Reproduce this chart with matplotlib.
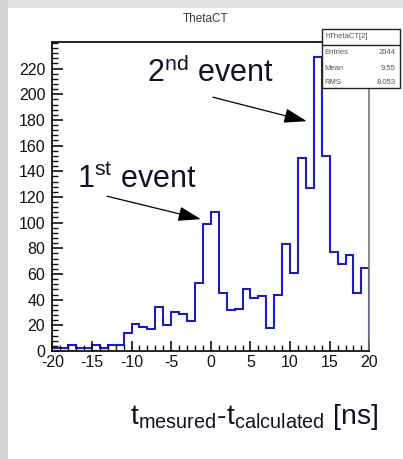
import numpy as np
import matplotlib.pyplot as plt
from matplotlib.patches import Rectangle
from matplotlib.ticker import MultipleLocator

plt.rcParams['font.family'] = ['Liberation Sans', 'DejaVu Sans']
plt.rcParams['mathtext.fontset'] = 'custom'
plt.rcParams['mathtext.rm'] = 'Liberation Sans'
plt.rcParams['mathtext.it'] = 'Liberation Sans'
plt.rcParams['axes.unicode_minus'] = False

# histogram hThetaCT[2], 1 ns bins from -20 to 20
bin_edges = np.arange(-20, 21, 1)
counts = [2, 2, 5, 2, 2, 5, 2, 5, 5, 14, 21, 19, 17, 34, 20, 30, 29, 23, 53, 99,
          108, 45, 32, 33, 48, 41, 43, 18, 44, 83, 61, 150, 127, 229, 152, 77, 68, 75, 45, 65]

x_ticks = [-20, -15, -10, -5, 0, 5, 10, 15, 20]
y_ticks = [0, 20, 40, 60, 80, 100, 120, 140, 160, 180, 200, 220]

stats_name = 'hThetaCT[2]'
stats_labels = ['Entries', 'Mean', 'RMS']
stats_values = ['2044', '9.55', '8.053']

fig = plt.figure(figsize=(4.03, 4.59), dpi=100)
fig.patch.set_facecolor('white')
# grey slide border at top and left
fig.patches.append(Rectangle((0, 0.982), 1, 0.018, transform=fig.transFigure,
                             facecolor='#e2e2e2', edgecolor='none', zorder=0))
fig.patches.append(Rectangle((0, 0), 0.021, 1, transform=fig.transFigure,
                             facecolor='#d4d4d4', edgecolor='none', zorder=0))

ax = fig.add_axes([0.1298, 0.2353, 0.7866, 0.6732])
ax.stairs(counts, bin_edges, color='#1c1cc4', linewidth=1.5)
ax.set_xlim(-20, 20)
ax.set_ylim(0, 240.7)

ax.set_xticks(x_ticks)
ax.set_xticklabels([str(t) for t in x_ticks])
ax.set_yticks(y_ticks)
ax.set_yticklabels([str(t) for t in y_ticks])
ax.xaxis.set_minor_locator(MultipleLocator(1))
ax.yaxis.set_minor_locator(MultipleLocator(4))
ax.tick_params(axis='both', which='both', direction='in', colors='#111111',
               labelsize=11.5, top=False, right=False)
ax.tick_params(axis='y', which='major', length=8, width=1.2, pad=5)
ax.tick_params(axis='y', which='minor', length=4, width=1.0)
ax.tick_params(axis='x', which='major', length=7, width=1.2, pad=3)
ax.tick_params(axis='x', which='minor', length=4, width=1.0)
for side in ['left', 'bottom', 'top']:
    ax.spines[side].set_linewidth(1.3)
    ax.spines[side].set_color('#111111')
ax.spines['right'].set_color('#777777')
ax.spines['right'].set_linewidth(1.2)

# annotations
ax.annotate('', xy=(-1.25, 102.7), xytext=(-13.1, 120.6),
            arrowprops=dict(arrowstyle='-|>,head_length=1.4,head_width=0.45',
                            color='black', lw=0.9, shrinkA=0, shrinkB=0))
ax.annotate('', xy=(12.1, 179), xytext=(0.26, 197.7),
            arrowprops=dict(arrowstyle='-|>,head_length=1.4,head_width=0.45',
                            color='black', lw=0.9, shrinkA=0, shrinkB=0))
ax.text(-16.9, 126.8, r'1$^{\mathrm{st}}$ event', fontsize=22, color='#111128',
        ha='left', va='baseline')
ax.text(-8.05, 209.3, r'2$^{\mathrm{nd}}$ event', fontsize=22, color='#111128',
        ha='left', va='baseline')

# title
fig.text(0.509, 0.9586, 'ThetaCT', fontsize=8.5, color='#3a3a3a', ha='center', va='center')

# stats box
bx0, bx1 = 322 / 403, 400 / 403
by_top, by_div, by_bot = 1 - 29 / 459, 1 - 45 / 459, 1 - 88 / 459
fig.patches.append(Rectangle((bx0, by_bot), bx1 - bx0, by_top - by_bot, transform=fig.transFigure,
                             facecolor='white', edgecolor='#222222', linewidth=1.0, zorder=5))
fig.add_artist(plt.Line2D([bx0, bx1], [by_div, by_div], transform=fig.transFigure,
                          color='#222222', linewidth=1.0, zorder=6))
fig.text(bx0 + 0.008, 1 - 37 / 459, stats_name, fontsize=5.5, color='#555555',
         ha='left', va='center', zorder=7)
for i, (lab, val) in enumerate(zip(stats_labels, stats_values)):
    yy = 1 - (53 + 15 * i) / 459
    fig.text(bx0 + 0.006, yy, lab, fontsize=5.5, color='#555555', ha='left', va='center', zorder=7)
    fig.text(bx1 - 0.012, yy, val, fontsize=5.5, color='#555555', ha='right', va='center', zorder=7)

# x axis label
fig.text(130 / 403, 1 - 424 / 459,
         r'$\mathregular{t_{mesured}}$-$\mathregular{t_{calculated}}$ [ns]',
         fontsize=20.5, color='#111128', ha='left', va='baseline')

fig.savefig('out.png', dpi=100, facecolor=fig.get_facecolor())
